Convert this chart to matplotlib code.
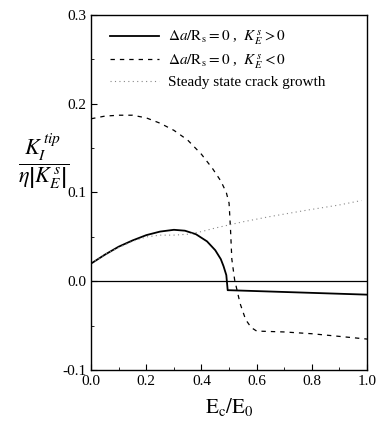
import matplotlib
matplotlib.use("Agg")
import matplotlib.pyplot as plt
from matplotlib.ticker import MultipleLocator

plt.rcParams["font.family"] = ["Liberation Serif", "DejaVu Serif"]
plt.rcParams["mathtext.fontset"] = "stix"

# delta a / R_s = 0, K_E^s > 0
pos_x = [0.0, 0.05, 0.1, 0.15, 0.2, 0.25, 0.3, 0.34, 0.38, 0.42, 0.45, 0.47, 0.48, 0.49, 0.495, 0.5, 0.6, 0.8, 1.0]
pos_y = [0.020, 0.030, 0.039, 0.046, 0.052, 0.056, 0.058, 0.057, 0.053, 0.045, 0.035, 0.025, 0.017, 0.007, -0.010, -0.010, -0.011, -0.013, -0.015]

# delta a / R_s = 0, K_E^s < 0
neg_x = [0.0, 0.05, 0.1, 0.15, 0.2, 0.25, 0.3, 0.35, 0.4, 0.44, 0.47, 0.49, 0.5, 0.505, 0.51, 0.52, 0.54, 0.56, 0.58, 0.6, 0.7, 0.8, 0.9, 1.0]
neg_y = [0.183, 0.186, 0.187, 0.187, 0.184, 0.178, 0.170, 0.159, 0.143, 0.127, 0.113, 0.100, 0.088, 0.060, 0.025, 0.002, -0.025, -0.043, -0.052, -0.056, -0.057, -0.059, -0.062, -0.065]

# steady state crack growth
ss_x = [0.0, 0.05, 0.1, 0.15, 0.2, 0.25, 0.3, 0.35, 0.4, 0.45, 0.55, 0.65, 0.78, 0.9, 0.98]
ss_y = [0.020, 0.030, 0.038, 0.045, 0.050, 0.052, 0.052, 0.053, 0.056, 0.060, 0.067, 0.073, 0.080, 0.086, 0.091]

x_ticks = [0.0, 0.2, 0.4, 0.6, 0.8, 1.0]
x_labels = ["0.0", "0.2", "0.4", "0.6", "0.8", "1.0"]
y_ticks = [-0.1, 0.0, 0.1, 0.2, 0.3]
y_labels = ["-0.1", "0.0", "0.1", "0.2", "0.3"]

fig = plt.figure(figsize=(3.78, 4.24), dpi=100)
ax = fig.add_axes([0.241, 0.127, 0.730, 0.838])

ax.plot(pos_x, pos_y, color="black", lw=1.3, label=r"$\Delta a/\mathrm{R_s}=0$ ,  $K_E^{\,s}>0$")
ax.plot(neg_x, neg_y, color="black", lw=0.9, ls=(0, (3.5, 4)), label=r"$\Delta a/\mathrm{R_s}=0$ ,  $K_E^{\,s}<0$")
ax.plot(ss_x, ss_y, color="#888888", lw=0.8, ls=(0, (1, 3)), label="Steady state crack growth")
ax.axhline(0, color="black", lw=0.9)

ax.set_xlim(0, 1.0)
ax.set_ylim(-0.1, 0.3)
ax.set_xticks(x_ticks)
ax.set_xticklabels(x_labels)
ax.set_yticks(y_ticks)
ax.set_yticklabels(y_labels)
ax.xaxis.set_minor_locator(MultipleLocator(0.1))
ax.yaxis.set_minor_locator(MultipleLocator(0.05))
ax.tick_params(which="both", direction="in", labelsize=11)
ax.tick_params(which="major", length=4)
ax.tick_params(which="minor", length=2)
for s in ax.spines.values():
    s.set_linewidth(1.0)

ax.set_xlabel(r"$\mathrm{E_c/E_0}$", fontsize=15, labelpad=6)
fig.text(0.115, 0.62, r"$\dfrac{K_I^{\,tip}}{\eta\left|K_E^{\,s}\right|}$", fontsize=16,
         ha="center", va="center")

ax.legend(loc="upper left", bbox_to_anchor=(0.02, 1.0), frameon=False, fontsize=11,
          handlelength=3.2, handletextpad=0.6, labelspacing=0.3)

fig.savefig("out.png", dpi=100)
